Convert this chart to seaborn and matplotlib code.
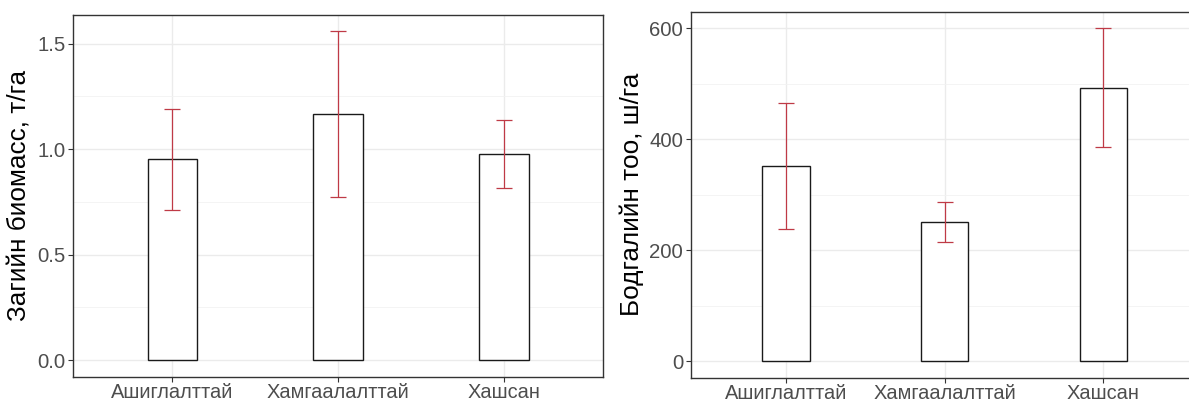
import matplotlib
matplotlib.use("Agg")
import matplotlib.pyplot as plt
import seaborn as sns
import pandas as pd
import numpy as np

# Sites and measured values
sites = ["Ашиглалттай", "Хамгаалалттай", "Хашсан"]

biomass_mean = [0.952, 1.166, 0.976]
biomass_err = [0.238, 0.392, 0.162]

shrub_mean = [352, 251, 493]
shrub_err = [114, 36, 107]

sns.set_theme(style="whitegrid")
plt.rcParams["font.family"] = ["Liberation Sans", "DejaVu Sans"]

fig = plt.figure(figsize=(11.89, 4.01), dpi=100)
ax1 = fig.add_axes([73 / 1189, 1 - 376.7 / 401, 530.3 / 1189, 361.7 / 401])
ax2 = fig.add_axes([690.7 / 1189, 1 - 377.7 / 401, 507.9 / 1189, 366 / 401])

err_color = "#BF3A46"


def panel(ax, means, errs, ylabel, yticks, yfmt):
    df = pd.DataFrame({"site": sites, "value": means})
    sns.barplot(data=df, x="site", y="value", ax=ax, color="white",
                edgecolor="#1a1a1a", linewidth=1.0, width=0.3,
                errorbar=None, order=sites, saturation=1)
    ax.errorbar(np.arange(len(sites)), means, yerr=errs, fmt="none",
                ecolor=err_color, elinewidth=0.9, capsize=5.5, capthick=0.9,
                zorder=5)
    top = max(m + e for m, e in zip(means, errs))
    pad = 0.05 * top
    ax.set_ylim(-pad, top + pad)
    ax.set_xlim(-0.6, 2.6)
    ax.set_yticks(yticks)
    ax.set_yticklabels([yfmt(v) for v in yticks])
    # minor gridlines at midpoints
    mids = [(a + b) / 2 for a, b in zip(yticks[:-1], yticks[1:])]
    ax.set_yticks(mids, minor=True)
    ax.grid(which="major", color="#EBEBEB", linewidth=1.0)
    ax.grid(which="minor", axis="y", color="#F2F2F2", linewidth=0.6)
    ax.set_axisbelow(True)
    for s in ax.spines.values():
        s.set_visible(True)
        s.set_color("#333333")
        s.set_linewidth(1.0)
    ax.tick_params(axis="both", which="major", length=3.5, width=0.8,
                   color="#333333", labelsize=14.7, labelcolor="#4D4D4D",
                   pad=2, left=True, bottom=True)
    ax.tick_params(axis="x", which="major", pad=1, labelsize=14.4)
    ax.tick_params(axis="both", which="minor", length=0)
    ax.set_xlabel("")
    ax.set_ylabel(ylabel, fontsize=18.8, color="black", labelpad=4)


panel(ax1, biomass_mean, biomass_err, "Загийн биомасс, т/га",
      [0.0, 0.5, 1.0, 1.5], lambda v: f"{v:.1f}")
panel(ax2, shrub_mean, shrub_err, "Бодгалийн тоо, ш/га",
      [0, 200, 400, 600], lambda v: f"{v:d}")

fig.savefig("out.png", dpi=100)
